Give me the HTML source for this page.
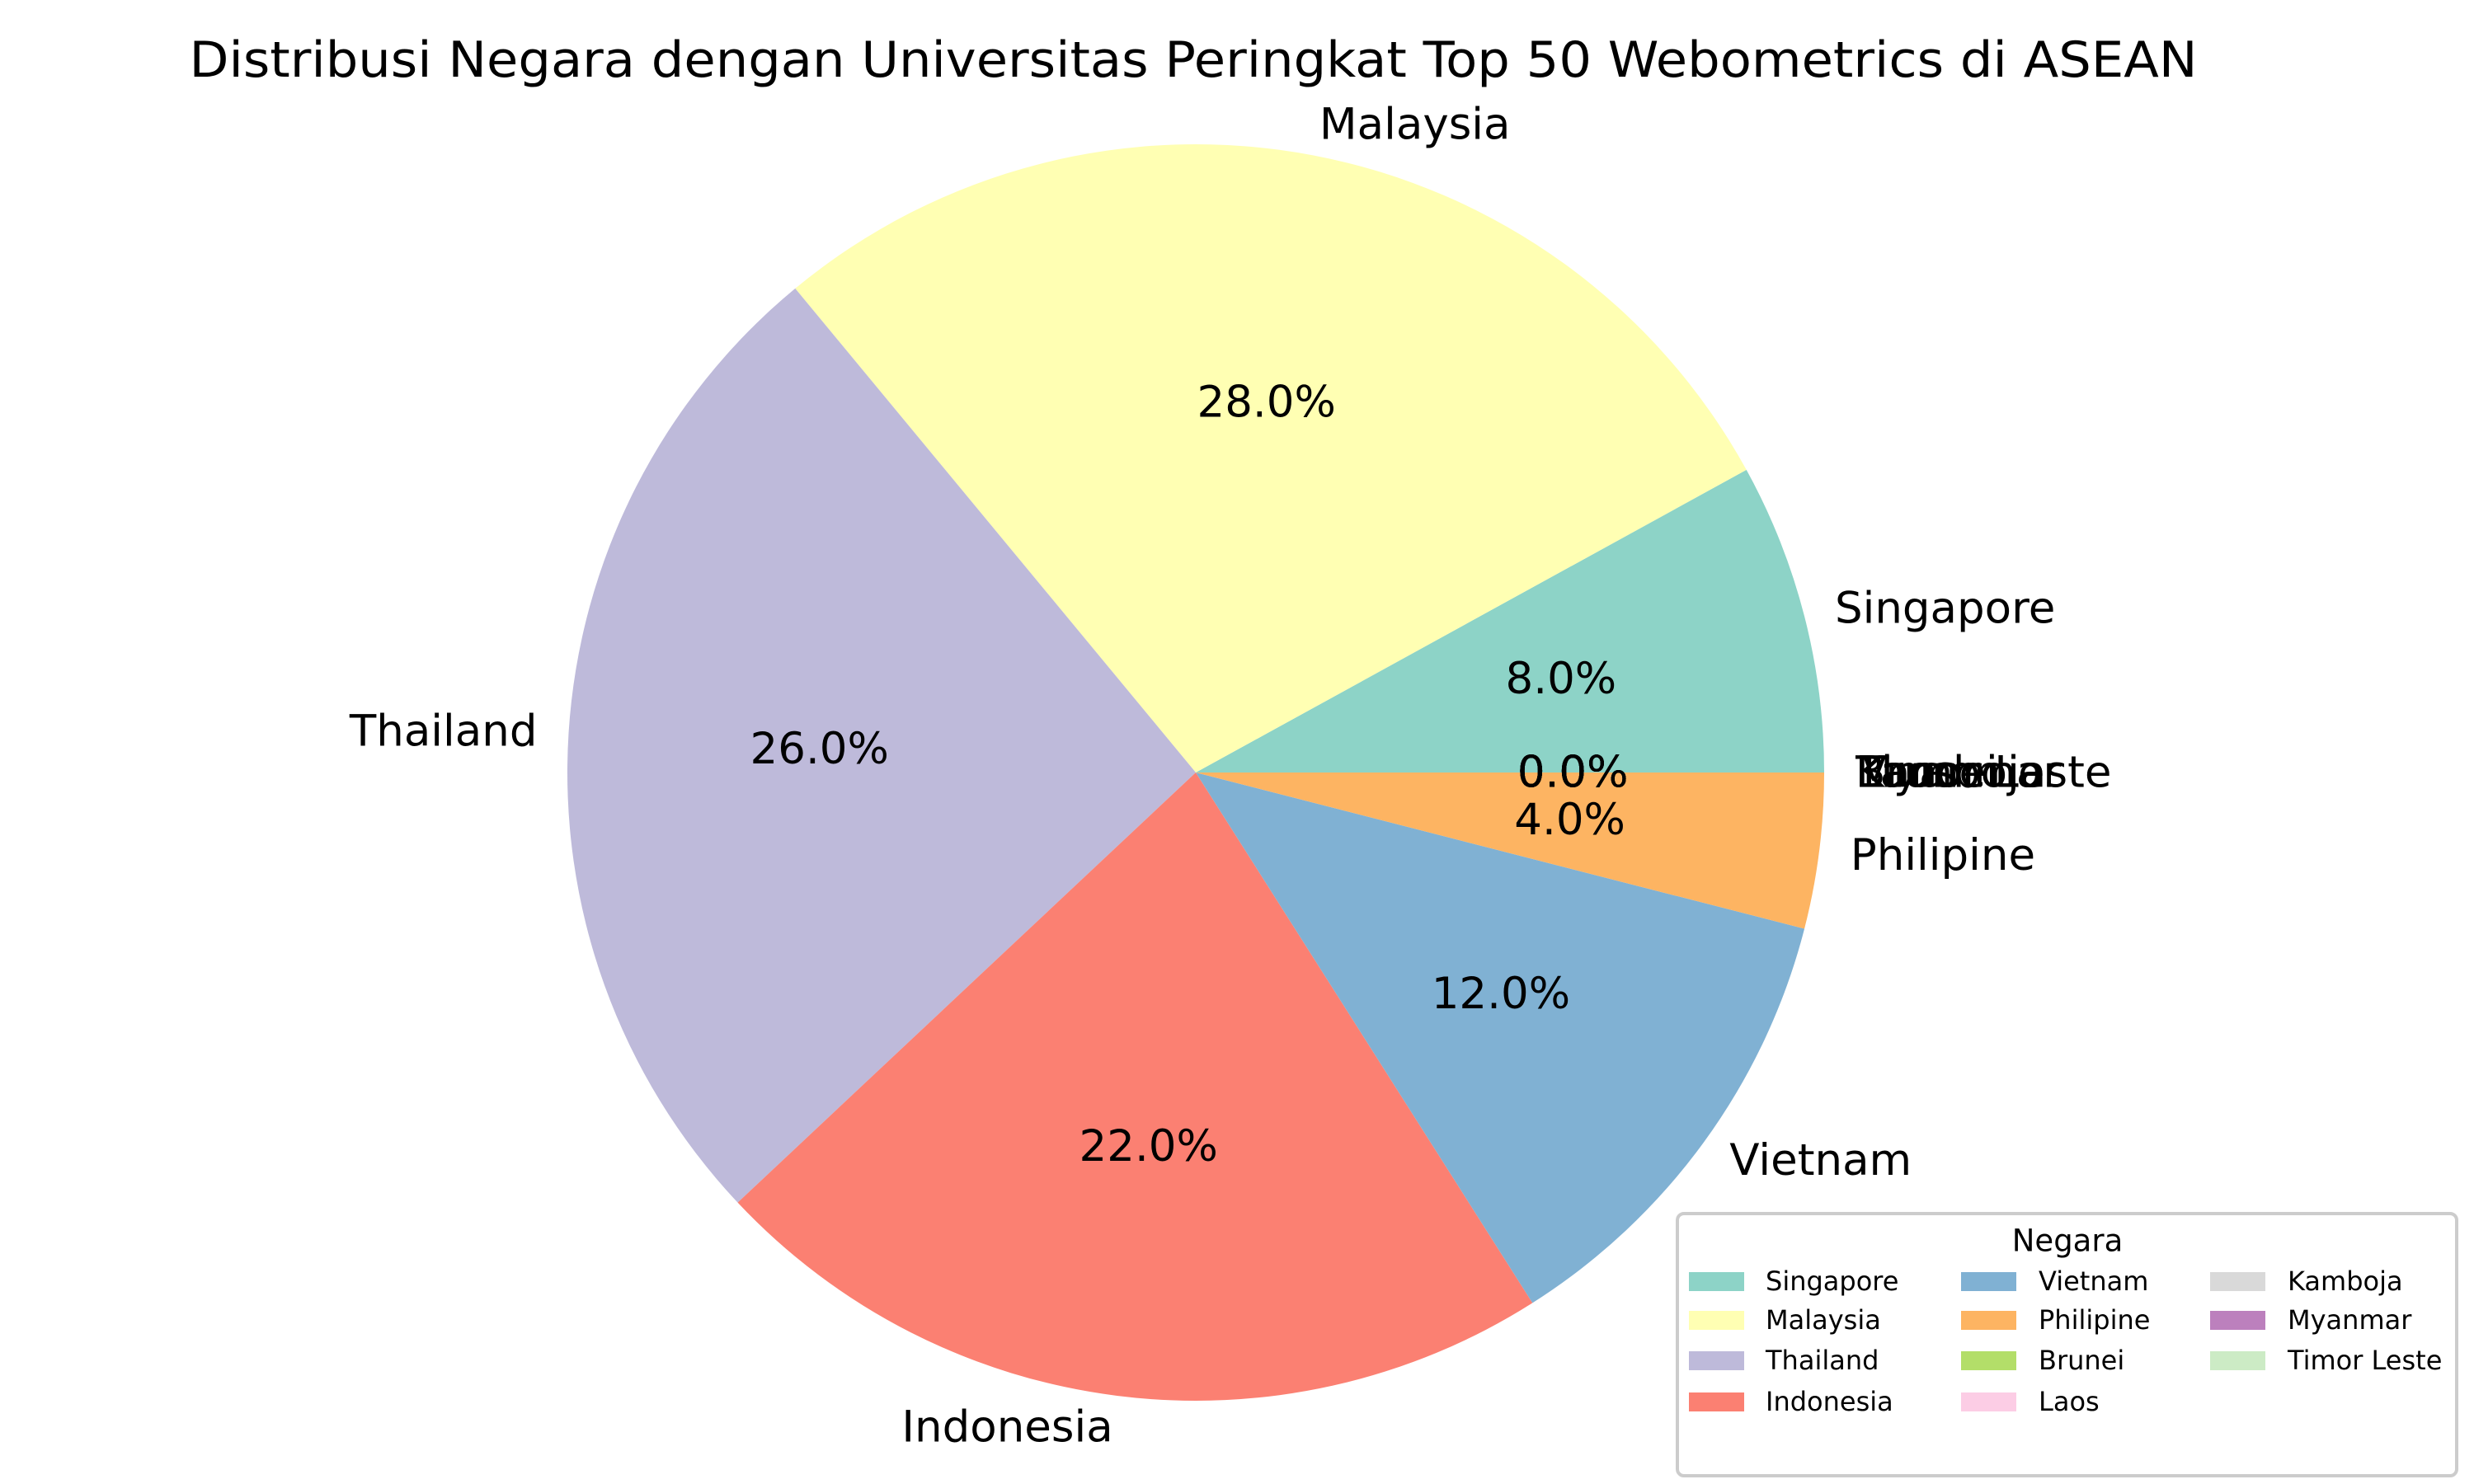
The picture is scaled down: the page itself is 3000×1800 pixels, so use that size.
<!DOCTYPE html>
<html><head><meta charset="utf-8"><style>
html,body{margin:0;padding:0;background:#fff}
svg{display:block;font-family:"DejaVu Sans","Liberation Sans",sans-serif}
</style></head><body>
<svg id="chart" width="3000" height="1800" viewBox="0 0 3000 1800" xmlns="http://www.w3.org/2000/svg">
<rect width="3000" height="1800" fill="#fff"/>
<text x="1447" y="73" font-size="60" text-anchor="middle" dominant-baseline="central" textLength="2435" lengthAdjust="spacingAndGlyphs">Distribusi Negara dengan Universitas Peringkat Top 50 Webometrics di ASEAN</text>
<g id="slices"></g>
<g id="labels"></g>
<g id="legend"></g>
</svg>
<script>
const countries = ["Singapore","Malaysia","Thailand","Indonesia","Vietnam","Philipine","Brunei","Laos","Kamboja","Myanmar","Timor Leste"];
const counts = [4,14,13,11,6,2,0,0,0,0,0];
const colors = ["#8dd3c7","#ffffb3","#bebada","#fb8072","#80b1d3","#fdb462","#b3de69","#fccde5","#d9d9d9","#bc80bd","#ccebc5"];
const legendTitle = "Negara";

const NS = "http://www.w3.org/2000/svg";
const cx = 1450, cy = 937, R = 762;
const total = counts.reduce((a,b)=>a+b,0);
const gS = document.getElementById('slices');
const gL = document.getElementById('labels');
function pt(r, a){ return [cx + r*Math.cos(a), cy - r*Math.sin(a)]; }
let ang = 0;
counts.forEach((v,i)=>{
  const frac = v/total;
  const a0 = ang, a1 = ang + frac*2*Math.PI;
  if (v > 0) {
    const p0 = pt(R,a0), p1 = pt(R,a1);
    const large = (a1-a0) > Math.PI ? 1 : 0;
    const path = document.createElementNS(NS,'path');
    path.setAttribute('d', `M${cx},${cy} L${p0[0]},${p0[1]} A${R},${R} 0 ${large} 0 ${p1[0]},${p1[1]} Z`);
    path.setAttribute('fill', colors[i]);
    
    
    gS.appendChild(path);
  }
  const mid = (a0+a1)/2;
  const lp = pt(1.05*R, mid);
  const t = document.createElementNS(NS,'text');
  t.setAttribute('x', lp[0]); t.setAttribute('y', lp[1]);
  t.setAttribute('font-size', '53');
  t.setAttribute('text-anchor', Math.cos(mid) >= 0 ? 'start' : 'end');
  t.setAttribute('dominant-baseline', 'central');
  t.textContent = countries[i];
  
  
  gL.appendChild(t);
  const pp = pt(0.6*R, mid);
  const p = document.createElementNS(NS,'text');
  p.setAttribute('x', pp[0]); p.setAttribute('y', pp[1]);
  p.setAttribute('font-size', '53');
  p.setAttribute('text-anchor', 'middle');
  p.setAttribute('dominant-baseline', 'central');
  p.textContent = (frac*100).toFixed(1) + '%';
  
  
  gL.appendChild(p);
  ang = a1;
});

// legend
const gG = document.getElementById('legend');
const frame = document.createElementNS(NS,'rect');
frame.setAttribute('x', 2034); frame.setAttribute('y', 1472);
frame.setAttribute('width', 945); frame.setAttribute('height', 318);
frame.setAttribute('rx', 8);
frame.setAttribute('fill', '#fff'); frame.setAttribute('fill-opacity', '0.8');
frame.setAttribute('stroke', '#cccccc'); frame.setAttribute('stroke-width', '4');


gG.appendChild(frame);
const lt = document.createElementNS(NS,'text');
lt.setAttribute('x', 2507); lt.setAttribute('y', 1505);
lt.setAttribute('font-size', '37'); lt.setAttribute('text-anchor', 'middle');
lt.setAttribute('dominant-baseline', 'central');
lt.textContent = legendTitle;


gG.appendChild(lt);
const colSw = [2048, 2378, 2680], colTx = [2141, 2472, 2774];
const rowY = [1554, 1601, 1650, 1700];
countries.forEach((c,i)=>{
  const col = Math.floor(i/4), row = i%4;
  const g = document.createElementNS(NS,'g');
  
  
  const r = document.createElementNS(NS,'rect');
  r.setAttribute('x', colSw[col]); r.setAttribute('y', rowY[row]-11);
  r.setAttribute('width', 67); r.setAttribute('height', 23);
  r.setAttribute('fill', colors[i]);
  
  
  g.appendChild(r);
  const t = document.createElementNS(NS,'text');
  t.setAttribute('x', colTx[col]); t.setAttribute('y', rowY[row]);
  t.setAttribute('font-size', '32'); t.setAttribute('dominant-baseline', 'central');
  t.textContent = c;
  
  
  g.appendChild(t);
  gG.appendChild(g);
});
</script>
</body></html>
